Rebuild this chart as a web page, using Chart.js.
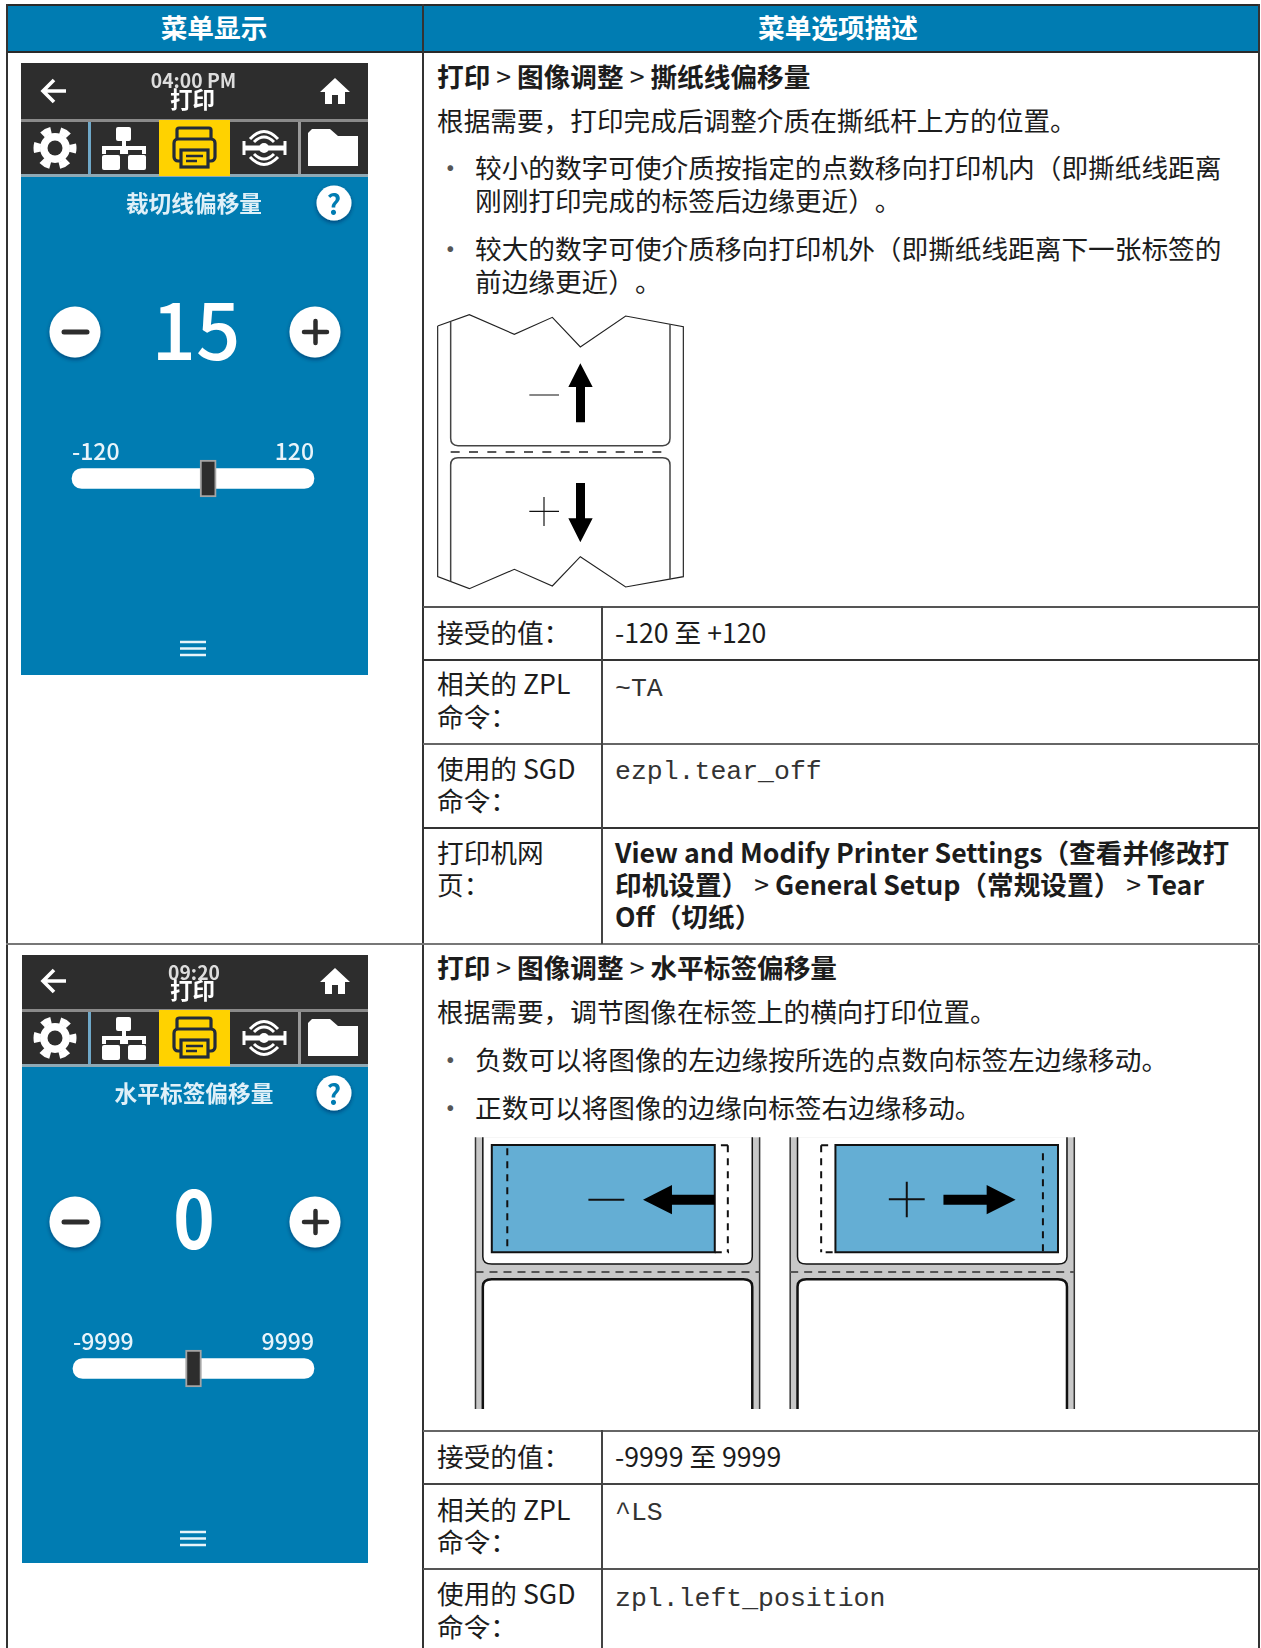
<!DOCTYPE html>
<html lang="zh-CN"><head><meta charset="utf-8">
<script src="https://cdn.jsdelivr.net/npm/chart.js@4"></script>
<style>
html,body{margin:0;padding:0;background:#fff;width:1261px;height:1648px;overflow:hidden}
body{position:relative;font-family:"Noto Sans CJK SC",sans-serif;color:#1c1c1c;text-spacing-trim:space-all;font-feature-settings:"chws" 0}
.t{position:absolute;white-space:nowrap;font-size:26.67px;line-height:32px}
.l{position:absolute;background:#333}
.b{font-weight:700}
.m{font-family:"Liberation Mono",monospace;font-size:26.5px;color:#333}
.scr{position:absolute;left:0;top:0;width:1261px;height:1648px;filter:blur(.65px);pointer-events:none}
.scr .t{color:#fff}
svg{position:absolute}
canvas{position:absolute}
</style></head><body>
<script>
// ---- slider data read from the two menu screens ----
const sliderTitles=['裁切线偏移量','水平标签偏移量'];
const sliderMin=[-120,-9999];
const sliderMax=[120,9999];
const sliderValue=[15,0];
const clockLabels=['04:00 PM','09:20'];
const thumbHalfWidth=[8,660];

const ns='http://www.w3.org/2000/svg';
function line(x,y,w,h,c){const d=document.createElement('div');d.className='l';d.style.cssText=`left:${x}px;top:${y}px;width:${w}px;height:${h}px;background:${c||'#333'}`;document.body.appendChild(d);return d}
function text(x,cy,html,cls,parent){const d=document.createElement('div');d.className='t '+(cls||'');const dx=parent?0:1,dy=parent?0:1.5;d.style.left=(x-dx)+'px';d.style.top=(cy-16-dy)+'px';d.innerHTML=html;(parent||document.body).appendChild(d);return d}
function svg(x,y,w,h,vb,inner,parent){const s=document.createElementNS(ns,'svg');s.setAttribute('style',`left:${x}px;top:${y}px`);s.setAttribute('width',w);s.setAttribute('height',h);s.setAttribute('viewBox',vb);s.setAttribute('preserveAspectRatio','none');s.innerHTML=inner;(parent||document.body).appendChild(s);return s}

// header
line(7,5,1252,47,'#007CB2');
line(6,4,1254,2,'#2a2a2a');
line(6,51,1254,2,'#2a2a2a');
line(6,4,2,1644,'#333');
line(422,4,2,1644,'#333');
line(1258,4,2,1644,'#333');
const h1=text(0,28,'菜单显示','b');h1.style.cssText+=';left:7px;width:414px;text-align:center;color:#fff';
const h2=text(0,28,'菜单选项描述','b');h2.style.cssText+=';left:423px;width:830px;text-align:center;color:#fff';

// row rules
[[606,'#555'],[659,'#333'],[743,'#666'],[827,'#333'],[1430,'#666'],[1483,'#444'],[1568,'#555']].forEach(r=>line(423,r[0],836,2,r[1]));
line(6,943,1254,2,'#777');
line(601,606,2,338,'#444');line(601,1430,2,218,'#444');

// row 1 text
const gt='<span style="font-weight:400"> &gt; </span>';
const dot='<span style="color:#555">·</span>';
text(438,77,`打印${gt}图像调整${gt}撕纸线偏移量`,'b');
text(438,121,'根据需要，打印完成后调整介质在撕纸杆上方的位置。');
text(438,168,dot);text(476,168,'较小的数字可使介质按指定的点数移向打印机内（即撕纸线距离');
text(476,201,'刚刚打印完成的标签后边缘更近）。');
text(438,249,dot);text(476,249,'较大的数字可使介质移向打印机外（即撕纸线距离下一张标签的');
text(476,282,'前边缘更近）。');
text(438,633,'接受的值：');text(616,633,'-120 至 +120');
text(438,684,'相关的 ZPL');text(438,717,'命令：');text(616,690,'~TA','m');
text(438,769,'使用的 SGD');text(438,801,'命令：');text(616,773,'ezpl.tear_off','m');
text(438,853,'打印机网');text(438,885,'页：');
text(616,853,'View and Modify Printer Settings（查看并修改打','b');
text(616,885,`印机设置）${gt}General Setup（常规设置）${gt}Tear`,'b');
text(616,917,'Off（切纸）','b');

// row 2 text
text(438,968,`打印${gt}图像调整${gt}水平标签偏移量`,'b');
text(438,1012,'根据需要，调节图像在标签上的横向打印位置。');
text(438,1060,dot);text(476,1060,'负数可以将图像的左边缘按所选的点数向标签左边缘移动。');
text(438,1108,dot);text(476,1108,'正数可以将图像的边缘向标签右边缘移动。');
text(438,1457,'接受的值：');text(616,1457,'-9999 至 9999');
text(438,1510,'相关的 ZPL');text(438,1542,'命令：');text(616,1514,'^LS','m');
text(438,1594,'使用的 SGD');text(438,1627,'命令：');text(616,1600,'zpl.left_position','m');

// tear-off diagram
svg(420,300,300,300,'0 0 900 900',`
<g fill="none" stroke="#222" stroke-width="3.5">
<polyline points="53,78 148,44 283,103 397,52 481,141 617,48 790,80 790,830 617,861 481,770 397,858 283,808 148,866 53,830 53,78"/>
<path stroke="#444" stroke-width="4.5" d="M92,65V415Q92,437 114,437H728Q750,437 750,415V72"/>
<path stroke="#444" stroke-width="4.5" d="M92,845V495Q92,473 114,473H728Q750,473 750,495V838"/>
<path stroke-dasharray="27 28" stroke-width="4" d="M92,456H750"/>
<path stroke="#111" stroke-width="3.5" d="M328,285H417M328,634H417M372,591V678"/>
</g>
<path d="M481,190L518,261H495V367H468V261H445Z"/>
<path d="M481,727L518,655H495V549H468V655H445Z"/>`);

// offset diagram
function panel(x){return `<rect x="${x}" y="52" width="697" height="815" fill="#c8c8c8"/>
<path d="M${x+18},52V410Q${x+18},432 ${x+40},432H${x+657}Q${x+679},432 ${x+679},410V52" fill="#fff" stroke="#111" stroke-width="1.5" vector-effect="non-scaling-stroke"/>
<path d="M${x+18},867V500Q${x+18},478 ${x+40},478H${x+657}Q${x+679},478 ${x+679},500V867" fill="#fff" stroke="#111" stroke-width="2.5" vector-effect="non-scaling-stroke"/>
<path d="M${x},52V867M${x+697},52V867" stroke="#333" stroke-width="1.5" vector-effect="non-scaling-stroke"/>
<path d="M${x},456H${x+697}" stroke="#555" stroke-width="2" stroke-dasharray="8 6" vector-effect="non-scaling-stroke"/>`}
const dash='stroke="#111" fill="none" stroke-width="2" stroke-dasharray="7 6" vector-effect="non-scaling-stroke"';
const solid='stroke="#111" fill="none" stroke-width="2" vector-effect="non-scaling-stroke"';
svg(460,1120,635.5,300,'0 0 1559 900',panel(38)+panel(810)+`
<rect x="78" y="75" width="547" height="322" fill="#64AED4" ${solid}/>
<path d="M116,85V392M657,76V397M640,76H660M625,397H660" ${dash}/>
<path d="M315,239H403" ${solid}/>
<path d="M449,239L520,195V224H625V254H520V283Z"/>
<rect x="921" y="75" width="546" height="322" fill="#64AED4" ${solid}/>
<path d="M1430,100V395M886,76V397M886,76H905M897,397H915" ${dash}/>
<path d="M1052,238H1140M1096,185V292" ${solid}/>
<path d="M1186,224H1292V195L1363,239L1292,283V254H1186Z"/>`);

// touch screens
const scrLayer=document.createElement('div');scrLayer.className='scr';document.body.appendChild(scrLayer);
const BLUE='#007CB2',DARK='#2d2d2d',INK='#222b3a';
function screen(i,top,h,d,x0,x1){
  const y=v=>v+d;
  const hdr=d===0?0:2;
  const inner=`
<defs><filter id="sh${i}" x="-30%" y="-30%" width="160%" height="170%"><feDropShadow dx="0" dy="2" stdDeviation="2" flood-color="#003" flood-opacity=".45"/></filter></defs>
<rect x="${x0}" y="${top}" width="${x1-x0}" height="${h}" fill="${BLUE}"/>
<rect x="${x0}" y="${top}" width="${x1-x0}" height="${176+d-top}" fill="${DARK}"/>
<rect x="${x0}" y="${y(119)}" width="${x1-x0}" height="3" fill="#8a8a8a"/>
<rect x="${x0}" y="${y(174)}" width="${x1-x0}" height="3" fill="#8fa9b5"/>
<rect x="88" y="${y(122)}" width="3" height="52" fill="#6fa8c8"/>
<rect x="298" y="${y(122)}" width="3" height="52" fill="#9a9a9a"/>
<rect x="159" y="${y(120)}" width="71" height="56" fill="#FFD200"/>
<path d="M66,${y(91)}H44M54,${y(80)}L43,${y(91)}L54,${y(102)}" stroke="#fff" stroke-width="3.6" fill="none"/>
<path d="M335,${y(78)}L350,${y(92)}H345V${y(104)}H338V${y(95)}H332V${y(104)}H325V${y(92)}H320Z" fill="#fff"/>
<circle cx="55" cy="${y(148)}" r="15" fill="#fff"/>
<circle cx="55" cy="${y(148)}" r="18" fill="none" stroke="#fff" stroke-width="7" stroke-dasharray="9.5 9.35" stroke-dashoffset="4.7"/>
<circle cx="55" cy="${y(148)}" r="7.5" fill="${DARK}"/>
<g fill="#fff"><rect x="116" y="${y(127)}" width="15" height="14" rx="2"/><rect x="102" y="${y(155)}" width="18" height="15" rx="2"/><rect x="128" y="${y(155)}" width="18" height="15" rx="2"/>
<path d="M122,${y(141)}h4v5h20v8h-4v-4h-14v4h-8v-4h-14v4h-4v-8h20z"/></g>
<g fill="none" stroke="${INK}" stroke-width="3.2"><rect x="177" y="${y(128)}" width="34" height="15" rx="2"/><rect x="174" y="${y(139)}" width="41" height="22" rx="4" fill="#FFD200"/><rect x="181" y="${y(150)}" width="27" height="17" fill="#FFD200"/></g>
<path d="M186,${y(156)}h17M186,${y(161)}h11" stroke="${INK}" stroke-width="2.5"/>
<g fill="none" stroke="#fff" stroke-width="3"><path d="M250,${y(139)}Q264,${y(124)} 278,${y(139)}M254,${y(142)}Q264,${y(132)} 274,${y(142)}M250,${y(157)}Q264,${y(172)} 278,${y(157)}M254,${y(154)}Q264,${y(164)} 274,${y(154)}"/></g>
<path d="M243,${y(148)}h43" stroke="#fff" stroke-width="5"/><circle cx="264" cy="${y(148)}" r="5" fill="#fff"/><path d="M244,${y(141)}v14M285,${y(141)}v14" stroke="#fff" stroke-width="3"/>
<path d="M312,${y(129)}H330L338,${y(136)}H358V${y(166)}H308V${y(133)}Z" fill="#fff"/>
<circle cx="334" cy="${y(203)}" r="17.5" fill="#fff" filter="url(#sh${i})"/>
<circle cx="75" cy="${y(332)}" r="25.5" fill="#fff" filter="url(#sh${i})"/><path d="M64,${y(332)}H87" stroke="${DARK}" stroke-width="5" stroke-linecap="round"/>
<circle cx="315" cy="${y(332)}" r="25.5" fill="#fff" filter="url(#sh${i})"/><path d="M304,${y(332)}H327M315.5,${y(321)}V${y(343)}" stroke="${DARK}" stroke-width="4.5" stroke-linecap="round"/>
<path d="M180,${y(642)}h26M180,${y(648.5)}h26M180,${y(655)}h26" stroke="#e8f4fa" stroke-width="2.6"/>`;
  svg(0,0,1261,1648,'0 0 1261 1648',inner,scrLayer);
  const center=(cx,cy,s,lh,css)=>{const e=text(cx-200,cy,s,'',scrLayer);e.style.cssText+=`;width:400px;text-align:center;line-height:${lh}px;margin-top:${16-lh/2}px;`+css;return e};
  center(i?194:193.5,80+d+hdr,clockLabels[i],18,'font-size:19.3px;font-weight:700;color:#ddd');
  center(192.5,(i?97:98)+d+hdr,'打印',20,'font-size:22.5px;font-weight:700');
  center(194,203+d,sliderTitles[i],28,'font-size:22.7px;font-weight:700;color:#dff0f8');
  center(334,203+d,'?',28,`font-size:28px;font-weight:700;color:${BLUE}`);
  center(i?193.5:196,(i?324:326)+d,String(sliderValue[i]),80,`font-size:${i?80:78}px;font-weight:${i?700:500};${i?'transform:scaleX(.88);':''}`);
  const c=document.createElement('canvas');c.width=347;c.height=72;
  c.style.cssText=`left:21px;top:${428+d}px;width:347px;height:72px`;scrLayer.appendChild(c);
  const lo=sliderMin[i],hi=sliderMax[i],v=sliderValue[i],tw=thumbHalfWidth[i];
  new Chart(c,{type:'bar',data:{labels:[sliderTitles[i]],datasets:[
    {label:'thumb',data:[[v-tw,v+tw]],backgroundColor:DARK,borderColor:'#a5a5a5',borderWidth:2,borderSkipped:false,barThickness:37,grouped:false,order:0,clip:false},
    {label:'track',data:[[lo,hi]],backgroundColor:'#fff',borderRadius:10,borderSkipped:false,barThickness:20,grouped:false,order:1,clip:false}
  ]},options:{indexAxis:'y',responsive:false,animation:false,layout:{padding:{left:i?52:51,right:54,top:10,bottom:8}},
    plugins:{legend:{display:false},tooltip:{enabled:false}},
    scales:{x:{position:'top',min:lo,max:hi,afterBuildTicks:a=>{a.ticks=[{value:lo},{value:hi}]},grid:{display:false,drawTicks:false},border:{display:false},
      ticks:{align:'inner',maxRotation:0,autoSkip:false,padding:0,color:'#e8f4fa',font:{family:'"Noto Sans CJK SC"',size:23,weight:'500'},callback:val=>String(val)}},
      y:{display:false}}}});
}
screen(0,63,612,0,21,368);
screen(1,955,608,890,22,368);
</script>
</body></html>
